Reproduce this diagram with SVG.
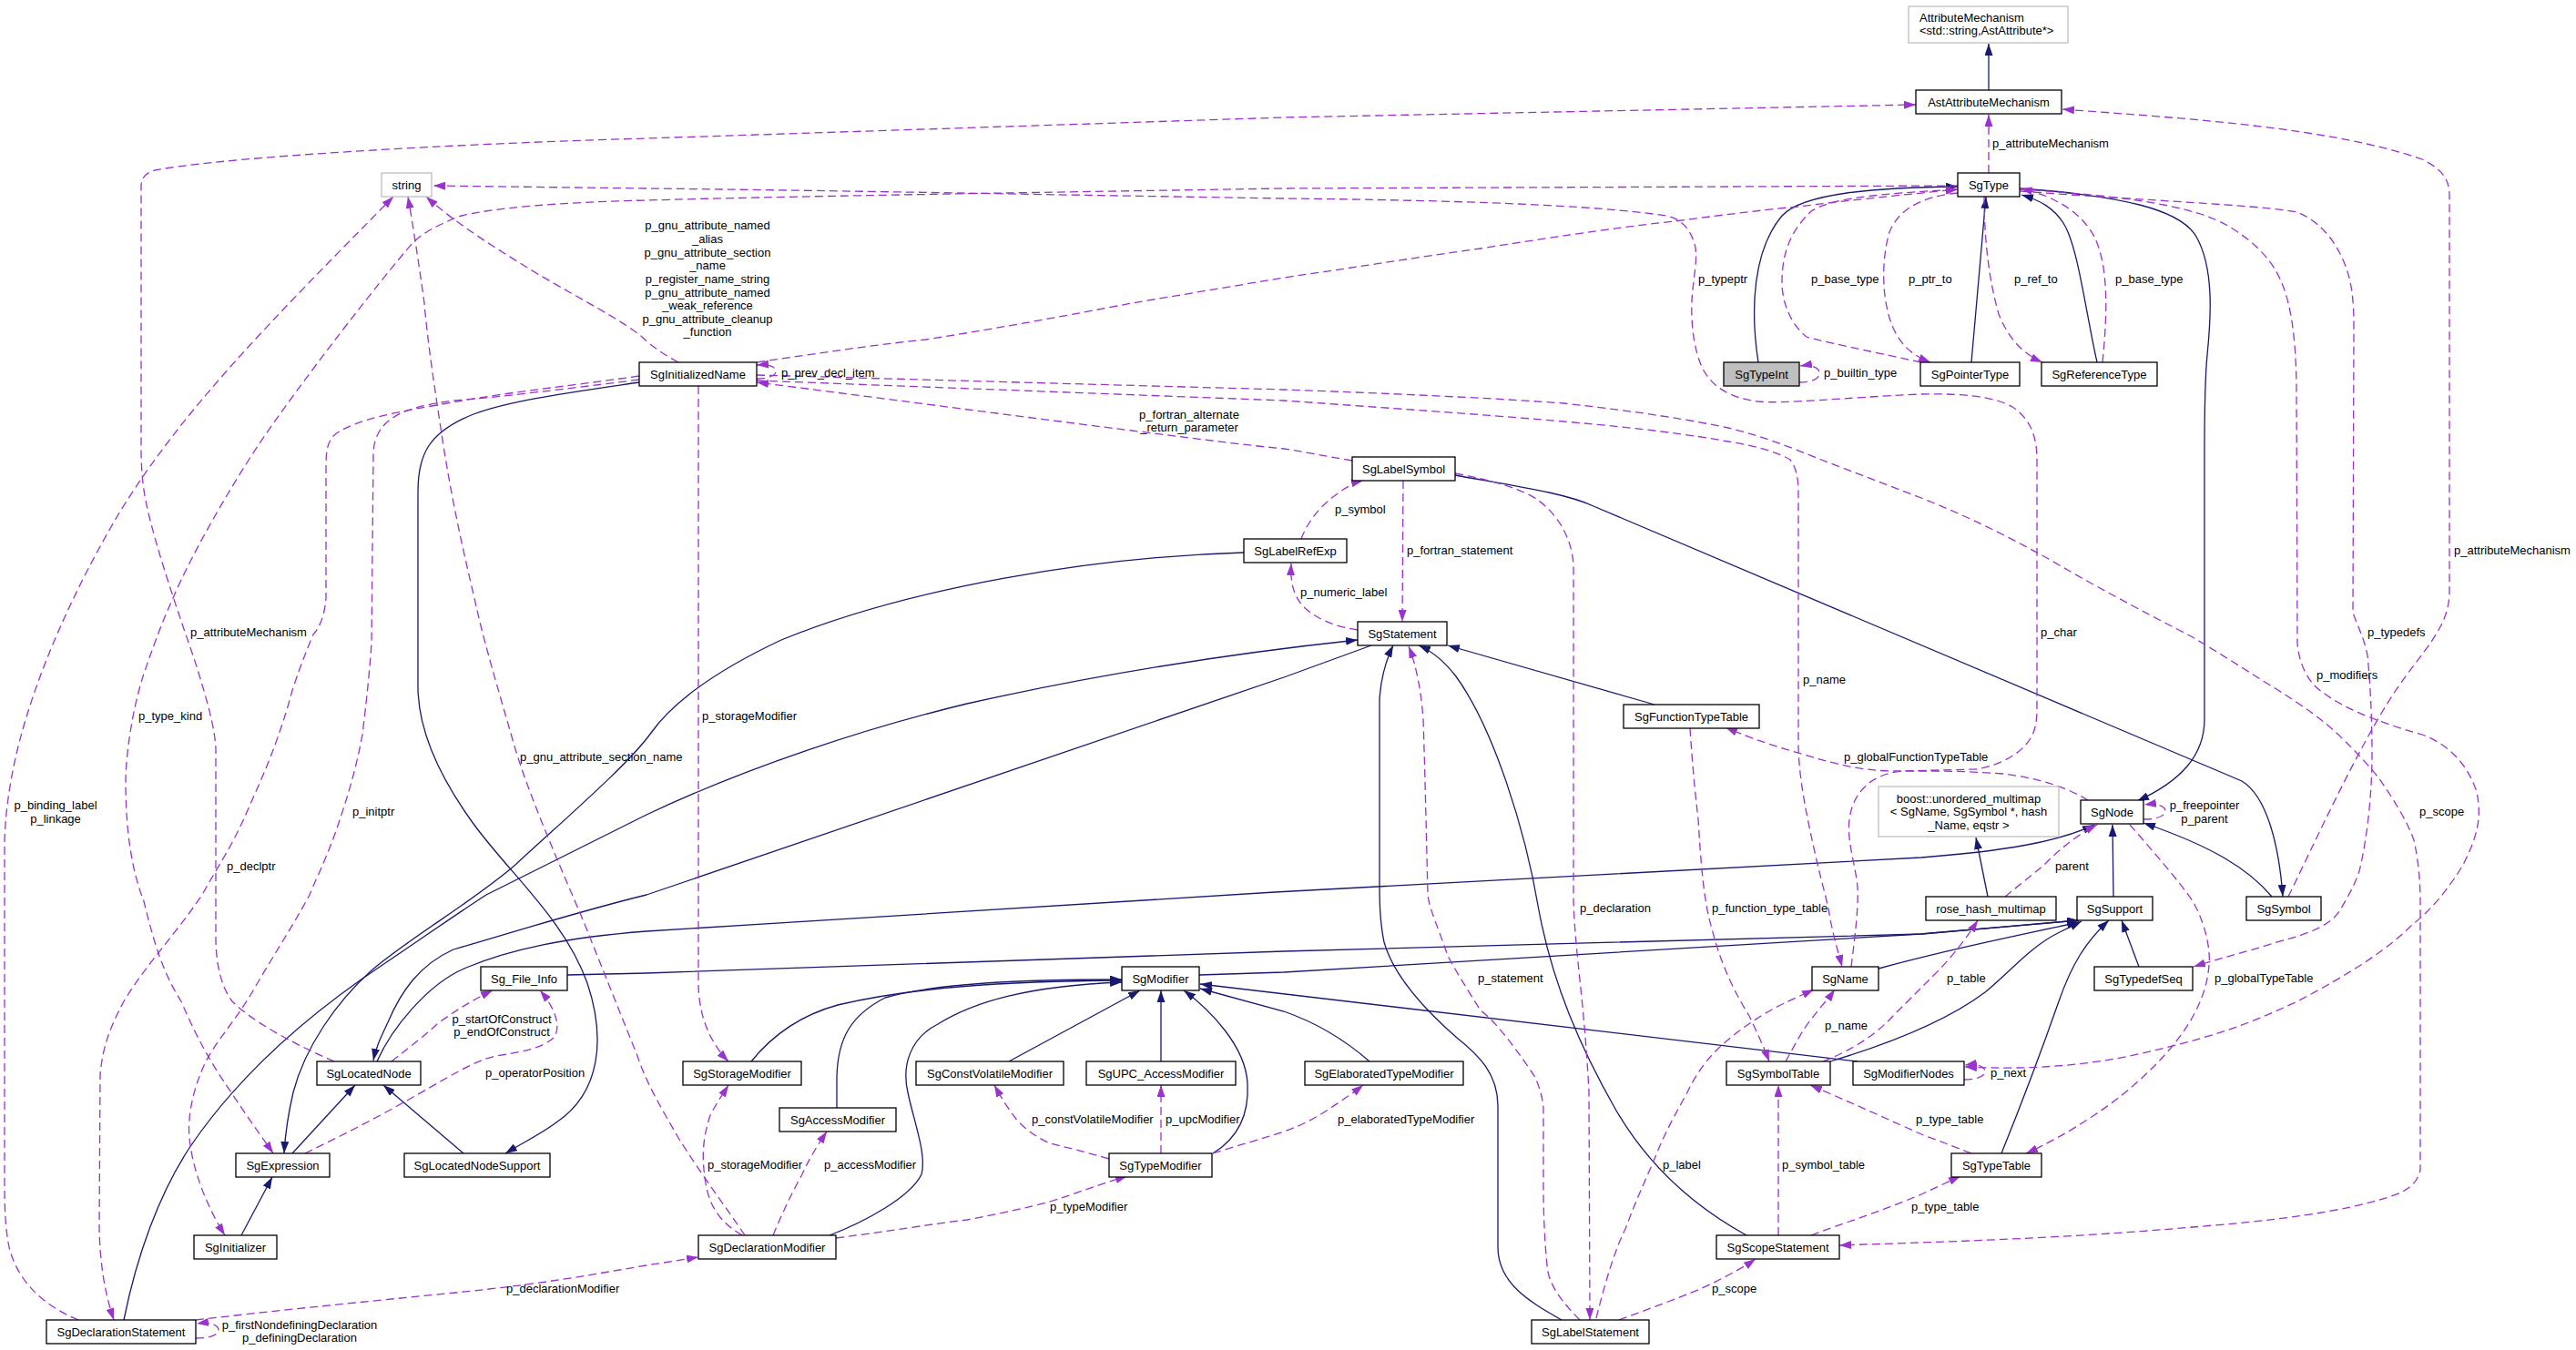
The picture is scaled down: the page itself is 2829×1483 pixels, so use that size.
<svg xmlns="http://www.w3.org/2000/svg" width="2829" height="1483" viewBox="0 0 2829 1483">
<style>
.n rect{fill:#fff;stroke:#000;stroke-width:1.3}
.g rect{fill:#fff;stroke:#bfbfbf;stroke-width:1.3}
.gf rect{fill:#bfbfbf;stroke:#000;stroke-width:1.3}
text{font-family:"Liberation Sans",Arial,sans-serif;font-size:13px;fill:#000}
.c{text-anchor:middle}
.b{fill:none;stroke:#191970;stroke-width:1.3;marker-end:url(#ab)}
.p{fill:none;stroke:#9a32cd;stroke-width:1.3;stroke-dasharray:9,5;marker-end:url(#ap)}
</style>
<defs>
<marker id="ab" viewBox="0 0 13 9" refX="13" refY="4.5" markerWidth="13" markerHeight="9" markerUnits="userSpaceOnUse" orient="auto"><path d="M0,0 L13,4.5 L0,9 z" fill="#191970" stroke="none"/></marker>
<marker id="ap" viewBox="0 0 13 9" refX="13" refY="4.5" markerWidth="13" markerHeight="9" markerUnits="userSpaceOnUse" orient="auto"><path d="M0,0 L13,4.5 L0,9 z" fill="#9a32cd" stroke="none"/></marker>
</defs>
<rect x="0" y="0" width="2829" height="1483" fill="#fff"/>

<g id="connectors">
<!-- inheritance -->
<path class="b" d="M2184,99 L2184,48"/>
<path class="b" d="M1931,398 C1922,340 1925,275 1957,237 C1980,212 2060,206 2150,205"/>
<path class="b" d="M2165,398 L2181,216"/>
<path class="b" d="M2303,398 C2290,340 2282,270 2266,245 C2255,228 2240,220 2220,214"/>
<path class="b" d="M2218,207 C2330,215 2395,230 2412,260 C2432,295 2428,350 2424,390 C2421,420 2421,460 2421,500 L2421,790 C2421,830 2395,858 2347,880"/>
<path class="b" d="M1598,522 C1670,535 1720,542 1750,556 L2462,858 C2490,875 2503,930 2507,985"/>
<path class="b" d="M2495,985 C2470,955 2430,930 2354,904"/>
<path class="b" d="M2321,985 L2320,906"/>
<path class="b" d="M2183,985 L2170,920"/>
<path class="b" d="M414,1166 C430,1130 470,1080 512,1063 C560,1043 620,1030 710,1023 L1400,980 L2110,942 C2200,935 2260,925 2300,906"/>
<path class="b" d="M1506,709 L1410,744 L710,983 C640,1000 560,1025 498,1043 C460,1060 440,1090 426,1123 C418,1140 413,1150 410,1165"/>
<path class="b" d="M136,1450 C150,1380 175,1310 210,1258 C260,1185 330,1120 420,1060 C460,1033 500,1005 534,983 L710,895 C820,843 950,800 1062,773 C1200,742 1350,718 1491,703"/>
<path class="b" d="M1366,607 C1200,612 1000,645 858,703 C790,735 740,770 715,805 C690,840 620,900 566,950 C520,990 450,1030 408,1066 C370,1100 335,1150 322,1200 C315,1230 313,1250 312,1267"/>
<path class="b" d="M321,1267 L390,1192"/>
<path class="b" d="M509,1267 L421,1192"/>
<path class="b" d="M702,420 C620,432 560,440 520,455 C470,475 459,500 459,540 L459,757 C460,800 480,850 520,905 C560,960 620,1010 645,1080 C665,1140 660,1200 611,1233 C595,1245 575,1255 555,1267"/>
<path class="b" d="M265,1357 L299,1293"/>
<path class="b" d="M1817,774 L1590,709"/>
<path class="b" d="M1918,1357 C1860,1325 1810,1280 1775,1220 C1735,1150 1705,1080 1690,1000 C1675,910 1640,800 1599,743 C1585,725 1572,715 1558,709"/>
<path class="b" d="M1715,1450 C1680,1430 1645,1410 1645,1370 L1645,1215 C1645,1180 1625,1160 1600,1140 C1560,1105 1530,1070 1520,1035 C1515,1010 1515,990 1515,960 L1515,773 C1515,750 1522,725 1530,709"/>
<path class="b" d="M1317,1071 L1410,1068 L2110,1026 L2283,1011"/>
<path class="b" d="M623,1071 L710,1069 L1410,1045 L2110,1026 L2283,1011"/>
<path class="b" d="M2063,1064 C2150,1040 2230,1025 2283,1013"/>
<path class="b" d="M2010,1166 C2080,1145 2140,1120 2180,1090 C2210,1065 2230,1040 2260,1025 L2286,1012"/>
<path class="b" d="M2198,1267 C2215,1225 2240,1160 2261,1100 C2275,1060 2290,1035 2316,1011"/>
<path class="b" d="M2349,1062 L2330,1011"/>
<path class="b" d="M825,1166 C850,1135 880,1115 920,1104 C1000,1085 1100,1078 1232,1077"/>
<path class="b" d="M919,1217 L919,1183 C920,1140 935,1115 972,1096 C1030,1080 1120,1076 1232,1076"/>
<path class="b" d="M911,1357 C950,1342 1000,1315 1012,1290 C1018,1268 1003,1230 997,1200 C990,1170 1000,1140 1030,1125 C1070,1100 1130,1083 1232,1079"/>
<path class="b" d="M1108,1166 L1252,1088"/>
<path class="b" d="M1275,1166 L1275,1088"/>
<path class="b" d="M1332,1267 C1360,1250 1372,1225 1370,1190 C1368,1150 1330,1110 1300,1088"/>
<path class="b" d="M2040,1166 L1318,1081"/>
<path class="b" d="M1504,1166 C1480,1145 1450,1125 1410,1111 L1318,1086"/>

<!-- usage -->
<path class="p" d="M2184,190 L2184,126"/>
<path class="p" d="M2513,985 C2540,930 2590,820 2630,760 C2660,715 2690,690 2690,650 L2690,215 C2690,195 2680,185 2660,175 C2560,140 2400,130 2265,120"/>
<path class="p" d="M367,1166 C330,1150 280,1125 255,1100 C240,1080 237,1050 237,1030 L237,823 C236,800 228,770 213,723 C200,685 170,600 160,550 C156,530 155,510 155,490 L155,205 C155,195 160,190 170,187 C250,172 500,158 710,152 L1410,129 L2104,115"/>
<path class="p" d="M86,1450 C50,1435 20,1410 10,1370 C6,1350 5,1330 5,1300 L5,930 C5,900 10,860 20,820 C40,740 80,650 130,565 C200,450 300,350 432,216"/>
<path class="p" d="M2150,204 L1410,207 C1100,212 850,216 710,220 C620,222 540,228 503,238 C480,248 465,255 453,267 C420,305 330,420 283,490 C250,540 210,610 190,657 C175,690 165,720 158,740 C145,780 138,830 138,860 C138,900 142,950 158,990 C170,1040 180,1070 199,1100 C220,1150 240,1180 254,1200 C270,1225 285,1245 300,1267"/>
<path class="p" d="M2033,1062 C2037,1030 2041,1000 2040,975 C2038,950 2028,925 2031,900 C2035,870 2055,850 2090,847 L2170,845 C2200,840 2225,825 2233,805 C2237,795 2237,785 2237,770 L2237,505 C2237,480 2230,460 2210,447 C2190,435 2150,432 2110,433 C2020,437 1960,444 1930,441 C1900,437 1880,425 1870,405 C1860,385 1857,355 1858,330 C1860,300 1866,280 1860,265 C1855,250 1845,240 1830,237 C1750,225 1600,220 1410,218 C1100,213 900,209 710,207 L476,204"/>
<path class="p" d="M831,398 C900,388 950,380 1017,373 C1100,360 1180,345 1243,333 L1410,305 C1500,292 1560,282 1626,273 C1720,258 1800,247 1839,243 C1900,235 1950,229 1975,227 C2030,220 2090,214 2150,208"/>
<path class="p" d="M745,398 C730,390 715,380 705,370 C680,350 640,330 589,300 C540,270 500,245 468,216"/>
<path class="p" d="M818,1357 C800,1330 770,1290 745,1250 C725,1215 710,1190 700,1160 C680,1110 660,1060 640,1010 C610,940 580,870 566,823 C545,750 530,700 521,657 C505,590 495,540 487,490 C478,430 470,380 466,333 C460,290 454,250 448,216"/>
<path class="p" d="M767,424 L767,1083 C768,1110 775,1140 800,1166"/>
<path class="p" d="M702,413 C620,425 560,430 480,445 C420,455 380,465 365,480 C358,490 358,500 358,520 L358,657 C356,680 350,690 344,697 C330,730 320,760 317,773 C300,830 285,860 272,890 C255,930 240,950 222,983 C190,1030 160,1060 136,1100 C120,1130 113,1150 110,1180 L109,1350 C110,1390 115,1420 125,1450"/>
<path class="p" d="M702,417 C600,430 530,438 498,440 C460,445 440,452 430,460 C415,470 410,485 410,500 L408,707 C405,750 400,790 398,807 C390,850 380,880 371,907 C360,940 345,970 340,983 C320,1020 300,1050 281,1083 C260,1120 240,1140 226,1166 C210,1200 206,1230 208,1250 C212,1290 230,1330 247,1357"/>
<path class="p" d="M831,416 C845,416 852,412 852,408 C852,403 845,400 831,401"/>
<path class="p" d="M1485,506 C1450,500 1430,496 1410,493 C1350,487 1300,480 1243,473 C1100,455 950,435 831,420"/>
<path class="p" d="M831,412 L1410,428 C1550,433 1650,438 1717,443 C1800,452 1860,462 1898,470 C1940,480 1975,495 2000,505 L2110,547 C2180,575 2220,598 2248,613 C2320,655 2370,680 2408,700 C2450,725 2480,745 2500,757 C2530,776 2550,790 2568,807 C2590,828 2605,845 2614,857 C2630,880 2645,905 2651,923 C2656,945 2658,970 2658,990 L2658,1285 C2655,1300 2645,1305 2637,1310 C2600,1325 2530,1338 2431,1346 C2330,1355 2250,1360 2110,1365 L2020,1368"/>
<path class="p" d="M831,418 L1410,440 C1550,450 1650,457 1717,463 C1800,470 1860,478 1898,485 C1930,490 1955,498 1966,505 C1972,512 1975,525 1975,540 L1975,820 C1976,860 1985,900 1995,945 C2002,975 2007,990 2010,1010 C2015,1035 2020,1050 2023,1062"/>
<path class="p" d="M1429,592 C1435,575 1450,555 1468,543 C1478,535 1488,530 1497,528"/>
<path class="p" d="M1491,692 C1465,688 1445,680 1430,665 C1420,652 1417,640 1418,619"/>
<path class="p" d="M1541,528 L1540,683"/>
<path class="p" d="M1598,520 C1640,528 1672,537 1690,550 C1710,565 1726,590 1728,620 L1728,990 C1730,1050 1740,1100 1745,1200 L1746,1450"/>
<path class="p" d="M1735,1450 C1715,1430 1700,1410 1699,1390 C1696,1360 1695,1330 1695,1300 L1695,1216 C1693,1200 1688,1185 1681,1176 C1660,1145 1640,1120 1626,1110 C1610,1085 1595,1060 1590,1050 C1580,1020 1570,1000 1568,983 C1566,900 1565,850 1563,790 C1560,750 1553,725 1547,710"/>
<path class="p" d="M1753,1448 C1765,1400 1775,1370 1785,1350 C1800,1310 1810,1290 1817,1273 C1830,1240 1845,1215 1853,1200 C1865,1175 1878,1160 1889,1150 C1905,1135 1920,1125 1934,1116 C1955,1103 1975,1095 1992,1087"/>
<path class="p" d="M1778,1450 C1810,1438 1853,1423 1880,1410 C1900,1400 1915,1392 1928,1383"/>
<path class="p" d="M1856,800 C1858,830 1860,857 1865,900 C1868,950 1871,990 1880,1020 C1890,1060 1905,1090 1921,1116 C1930,1135 1937,1150 1943,1166"/>
<path class="p" d="M1961,1166 C1970,1150 1980,1130 1989,1120 C2000,1105 2008,1097 2015,1087"/>
<path class="p" d="M2002,1166 C2030,1155 2057,1140 2080,1115 C2100,1095 2110,1085 2125,1070 C2145,1050 2160,1030 2172,1011"/>
<path class="p" d="M1953,1357 L1953,1192"/>
<path class="p" d="M1989,1357 C2020,1345 2060,1333 2110,1312 L2153,1292"/>
<path class="p" d="M2165,1267 C2140,1257 2120,1250 2110,1246 C2070,1228 2030,1210 1988,1192"/>
<path class="p" d="M2339,906 C2360,930 2395,970 2408,990 C2420,1010 2428,1040 2426,1060 C2424,1090 2410,1120 2385,1150 C2360,1180 2330,1205 2300,1225 C2270,1245 2245,1258 2225,1267"/>
<path class="p" d="M2293,879 C2270,865 2240,855 2200,850 C2160,847 2130,847 2110,847 L2075,847 C2040,846 2010,838 1975,827 C1950,820 1925,812 1895,799"/>
<path class="p" d="M2354,900 C2370,900 2378,896 2378,891 C2378,886 2370,882 2355,884"/>
<path class="p" d="M2202,985 C2220,970 2240,955 2248,947 C2265,930 2285,915 2303,906"/>
<path class="p" d="M2157,1186 C2172,1186 2180,1182 2180,1177 C2180,1172 2172,1168 2158,1170"/>
<path class="p" d="M430,1166 C450,1150 470,1135 480,1125 C500,1110 520,1098 541,1088"/>
<path class="p" d="M335,1267 C370,1250 410,1230 445,1210 C490,1185 520,1165 545,1160 C570,1156 595,1152 608,1140 C616,1130 612,1110 593,1088"/>
<path class="p" d="M215,1470 C232,1470 240,1466 240,1461 C240,1456 232,1452 216,1454"/>
<path class="p" d="M215,1450 C300,1440 400,1430 500,1420 C600,1410 650,1400 710,1390 L767,1381"/>
<path class="p" d="M815,1357 C795,1345 780,1330 775,1300 C770,1270 772,1250 780,1225 C788,1210 795,1200 800,1192"/>
<path class="p" d="M849,1357 C860,1330 875,1300 881,1290 C890,1270 900,1255 908,1243"/>
<path class="p" d="M918,1360 C980,1352 1020,1345 1062,1340 C1100,1333 1130,1326 1153,1320 C1185,1310 1210,1300 1238,1292"/>
<path class="p" d="M1218,1273 C1190,1265 1170,1260 1153,1256 C1135,1248 1121,1236 1115,1228 C1105,1215 1098,1203 1092,1192"/>
<path class="p" d="M1275,1267 L1275,1192"/>
<path class="p" d="M1332,1267 C1360,1258 1390,1250 1410,1243 C1430,1236 1445,1228 1460,1218 C1475,1208 1487,1200 1497,1192"/>
<path class="p" d="M1976,420 C1990,420 1998,416 1998,410 C1998,404 1990,400 1977,402"/>
<path class="p" d="M2150,212 C2110,216 2085,230 2075,255 C2066,285 2066,330 2079,360 C2088,380 2100,390 2120,398"/>
<path class="p" d="M2179,216 C2179,250 2182,300 2195,345 C2205,370 2220,388 2243,398"/>
<path class="p" d="M2110,398 C2050,385 2000,375 1984,370 C1965,355 1957,330 1957,310 C1957,280 1965,255 1989,232 C2010,218 2060,213 2150,208"/>
<path class="p" d="M2309,398 C2315,340 2315,290 2300,260 C2285,232 2255,215 2219,207"/>
<path class="p" d="M2218,208 C2330,215 2410,225 2450,250 C2490,275 2505,300 2513,333 C2520,360 2522,400 2522,430 L2523,707 C2525,730 2535,750 2550,760 C2570,775 2600,790 2660,807 C2690,818 2710,840 2720,870 C2726,900 2720,920 2705,950 C2690,975 2670,1000 2650,1015 C2620,1045 2580,1070 2523,1100 C2470,1125 2430,1140 2339,1160 C2280,1172 2220,1175 2158,1172"/>
<path class="p" d="M2219,210 C2350,220 2480,225 2523,233 C2550,245 2565,265 2575,290 C2583,310 2585,330 2585,360 L2584,673 C2590,690 2596,700 2600,720 C2604,760 2605,800 2605,830 C2605,870 2600,920 2591,957 C2585,975 2578,985 2570,1000 C2560,1015 2540,1025 2500,1035 C2470,1045 2440,1052 2409,1062"/>

<!-- edge labels -->
<text x="2188" y="162">p_attributeMechanism</text>
<text x="1865" y="311">p_typeptr</text>
<text x="1989" y="311">p_base_type</text>
<text x="2096" y="311">p_ptr_to</text>
<text x="2212" y="311">p_ref_to</text>
<text x="2323" y="311">p_base_type</text>
<text x="2003" y="414">p_builtin_type</text>
<text class="c" x="777" y="252">p_gnu_attribute_named</text>
<text class="c" x="777" y="267">_alias</text>
<text class="c" x="777" y="282">p_gnu_attribute_section</text>
<text class="c" x="777" y="296">_name</text>
<text class="c" x="777" y="311">p_register_name_string</text>
<text class="c" x="777" y="326">p_gnu_attribute_named</text>
<text class="c" x="777" y="340">_weak_reference</text>
<text class="c" x="777" y="355">p_gnu_attribute_cleanup</text>
<text class="c" x="777" y="369">_function</text>
<text x="858" y="414">p_prev_decl_item</text>
<text class="c" x="1306" y="460">p_fortran_alternate</text>
<text class="c" x="1306" y="474">_return_parameter</text>
<text x="1466" y="564">p_symbol</text>
<text x="1545" y="609">p_fortran_statement</text>
<text x="1428" y="655">p_numeric_label</text>
<text x="1980" y="751">p_name</text>
<text x="2241" y="699">p_char</text>
<text x="2600" y="699">p_typedefs</text>
<text x="2544" y="746">p_modifiers</text>
<text x="2695" y="609">p_attributeMechanism</text>
<text x="2657" y="896">p_scope</text>
<text class="c" x="2421" y="889">p_freepointer</text>
<text class="c" x="2421" y="904">p_parent</text>
<text x="2025" y="836">p_globalFunctionTypeTable</text>
<text x="2257" y="956">parent</text>
<text x="209" y="699">p_attributeMechanism</text>
<text x="152" y="791">p_type_kind</text>
<text class="c" x="61" y="889">p_binding_label</text>
<text class="c" x="61" y="904">p_linkage</text>
<text x="249" y="956">p_declptr</text>
<text x="387" y="896">p_initptr</text>
<text x="571" y="836">p_gnu_attribute_section_name</text>
<text x="771" y="791">p_storageModifier</text>
<text x="1735" y="1002">p_declaration</text>
<text x="1880" y="1002">p_function_type_table</text>
<text x="1623" y="1079">p_statement</text>
<text x="2138" y="1079">p_table</text>
<text x="2432" y="1079">p_globalTypeTable</text>
<text class="c" x="551" y="1124">p_startOfConstruct</text>
<text class="c" x="551" y="1138">p_endOfConstruct</text>
<text x="533" y="1183">p_operatorPosition</text>
<text x="2186" y="1183">p_next</text>
<text x="2004" y="1131">p_name</text>
<text x="2104" y="1234">p_type_table</text>
<text x="1133" y="1234">p_constVolatileModifier</text>
<text x="1280" y="1234">p_upcModifier</text>
<text x="1469" y="1234">p_elaboratedTypeModifier</text>
<text x="777" y="1284">p_storageModifier</text>
<text x="905" y="1284">p_accessModifier</text>
<text x="1826" y="1284">p_label</text>
<text x="1957" y="1284">p_symbol_table</text>
<text x="1153" y="1330">p_typeModifier</text>
<text x="2099" y="1330">p_type_table</text>
<text x="556" y="1420">p_declarationModifier</text>
<text x="1880" y="1420">p_scope</text>
<text class="c" x="329" y="1460">p_firstNondefiningDeclaration</text>
<text class="c" x="329" y="1474">p_definingDeclaration</text>
</g>

<g id="AttributeMechanism" class="g"><rect x="2096" y="7" width="175" height="40"/><text x="2108" y="24">AttributeMechanism</text><text x="2108" y="38">&lt;std::string,AstAttribute*&gt;</text></g>
<g id="AstAttributeMechanism" class="n"><rect x="2104" y="99" width="160" height="26"/><text class="c" x="2184" y="116.5">AstAttributeMechanism</text></g>
<g id="SgType" class="n"><rect x="2150" y="190" width="68" height="26"/><text class="c" x="2184" y="207.5">SgType</text></g>
<g id="string" class="g"><rect x="419" y="190" width="55" height="26"/><text class="c" x="446.5" y="207.5">string</text></g>
<g id="SgInitializedName" class="n"><rect x="702" y="398" width="129" height="26"/><text class="c" x="766.5" y="415.5">SgInitializedName</text></g>
<g id="SgTypeInt" class="gf"><rect x="1893" y="398" width="83" height="26"/><text class="c" x="1934.5" y="415.5">SgTypeInt</text></g>
<g id="SgPointerType" class="n"><rect x="2109" y="398" width="109" height="26"/><text class="c" x="2163.5" y="415.5">SgPointerType</text></g>
<g id="SgReferenceType" class="n"><rect x="2242" y="398" width="127" height="26"/><text class="c" x="2305.5" y="415.5">SgReferenceType</text></g>
<g id="SgLabelSymbol" class="n"><rect x="1485" y="502" width="113" height="26"/><text class="c" x="1541.5" y="519.5">SgLabelSymbol</text></g>
<g id="SgLabelRefExp" class="n"><rect x="1366" y="592" width="113" height="26"/><text class="c" x="1422.5" y="609.5">SgLabelRefExp</text></g>
<g id="SgStatement" class="n"><rect x="1491" y="683" width="98" height="26"/><text class="c" x="1540" y="700.5">SgStatement</text></g>
<g id="SgFunctionTypeTable" class="n"><rect x="1783" y="774" width="149" height="26"/><text class="c" x="1857.5" y="791.5">SgFunctionTypeTable</text></g>
<g id="boost_unordered_multimap" class="g"><rect x="2063" y="864" width="198" height="55"/><text class="c" x="2162" y="882">boost::unordered_multimap</text><text class="c" x="2162" y="896">&lt; SgName, SgSymbol *, hash</text><text class="c" x="2162" y="911">_Name, eqstr &gt;</text></g>
<g id="SgNode" class="n"><rect x="2285" y="879" width="69" height="26"/><text class="c" x="2319.5" y="896.5">SgNode</text></g>
<g id="rose_hash_multimap" class="n"><rect x="2115" y="985" width="143" height="26"/><text class="c" x="2186.5" y="1002.5">rose_hash_multimap</text></g>
<g id="SgSupport" class="n"><rect x="2281" y="985" width="83" height="26"/><text class="c" x="2322.5" y="1002.5">SgSupport</text></g>
<g id="SgSymbol" class="n"><rect x="2467" y="985" width="82" height="26"/><text class="c" x="2508" y="1002.5">SgSymbol</text></g>
<g id="Sg_File_Info" class="n"><rect x="528" y="1062" width="95" height="26"/><text class="c" x="575.5" y="1079.5">Sg_File_Info</text></g>
<g id="SgModifier" class="n"><rect x="1232" y="1062" width="85" height="26"/><text class="c" x="1274.5" y="1079.5">SgModifier</text></g>
<g id="SgName" class="n"><rect x="1990" y="1062" width="73" height="26"/><text class="c" x="2026.5" y="1079.5">SgName</text></g>
<g id="SgTypedefSeq" class="n"><rect x="2300" y="1062" width="108" height="26"/><text class="c" x="2354" y="1079.5">SgTypedefSeq</text></g>
<g id="SgLocatedNode" class="n"><rect x="348" y="1166" width="114" height="26"/><text class="c" x="405" y="1183.5">SgLocatedNode</text></g>
<g id="SgStorageModifier" class="n"><rect x="750" y="1166" width="130" height="26"/><text class="c" x="815" y="1183.5">SgStorageModifier</text></g>
<g id="SgConstVolatileModifier" class="n"><rect x="1006" y="1166" width="162" height="26"/><text class="c" x="1087" y="1183.5">SgConstVolatileModifier</text></g>
<g id="SgUPC_AccessModifier" class="n"><rect x="1193" y="1166" width="164" height="26"/><text class="c" x="1275" y="1183.5">SgUPC_AccessModifier</text></g>
<g id="SgElaboratedTypeModifier" class="n"><rect x="1433" y="1166" width="174" height="26"/><text class="c" x="1520" y="1183.5">SgElaboratedTypeModifier</text></g>
<g id="SgSymbolTable" class="n"><rect x="1896" y="1166" width="114" height="26"/><text class="c" x="1953" y="1183.5">SgSymbolTable</text></g>
<g id="SgModifierNodes" class="n"><rect x="2035" y="1166" width="122" height="26"/><text class="c" x="2096" y="1183.5">SgModifierNodes</text></g>
<g id="SgAccessModifier" class="n"><rect x="856" y="1217" width="128" height="26"/><text class="c" x="920" y="1234.5">SgAccessModifier</text></g>
<g id="SgExpression" class="n"><rect x="259" y="1267" width="103" height="26"/><text class="c" x="310.5" y="1284.5">SgExpression</text></g>
<g id="SgLocatedNodeSupport" class="n"><rect x="444" y="1267" width="160" height="26"/><text class="c" x="524" y="1284.5">SgLocatedNodeSupport</text></g>
<g id="SgTypeModifier" class="n"><rect x="1218" y="1267" width="113" height="26"/><text class="c" x="1274.5" y="1284.5">SgTypeModifier</text></g>
<g id="SgTypeTable" class="n"><rect x="2143" y="1267" width="99" height="26"/><text class="c" x="2192.5" y="1284.5">SgTypeTable</text></g>
<g id="SgInitializer" class="n"><rect x="213" y="1357" width="91" height="26"/><text class="c" x="258.5" y="1374.5">SgInitializer</text></g>
<g id="SgDeclarationModifier" class="n"><rect x="767" y="1357" width="151" height="26"/><text class="c" x="842.5" y="1374.5">SgDeclarationModifier</text></g>
<g id="SgScopeStatement" class="n"><rect x="1885" y="1357" width="135" height="26"/><text class="c" x="1952.5" y="1374.5">SgScopeStatement</text></g>
<g id="SgDeclarationStatement" class="n"><rect x="51" y="1450" width="164" height="26"/><text class="c" x="133" y="1467.5">SgDeclarationStatement</text></g>
<g id="SgLabelStatement" class="n"><rect x="1682" y="1450" width="129" height="26"/><text class="c" x="1746.5" y="1467.5">SgLabelStatement</text></g>
</svg>
